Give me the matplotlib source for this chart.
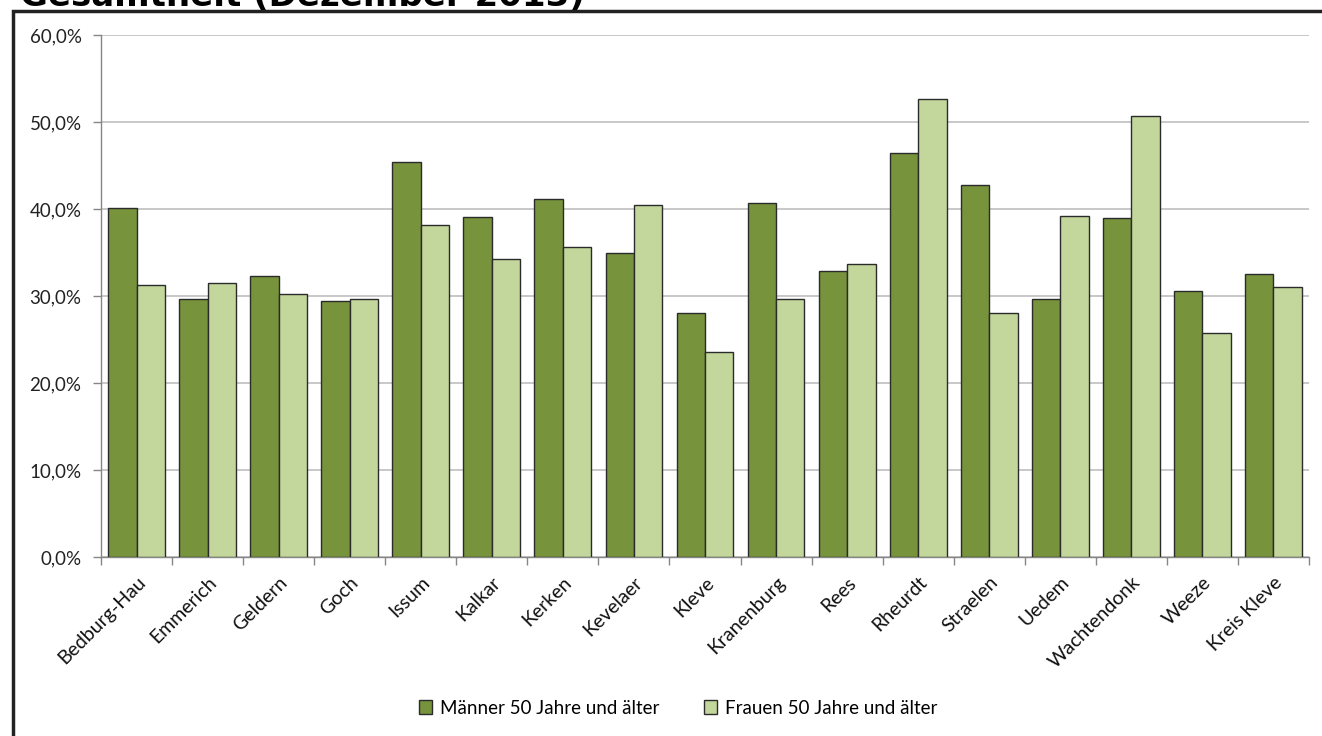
import matplotlib.pyplot as plt
import numpy as np
from matplotlib.patches import Rectangle
from matplotlib.ticker import FuncFormatter, MultipleLocator

# Anteil der Arbeitslosen 50 Jahre und aelter, Dezember 2013
orte = ["Bedburg-Hau", "Emmerich", "Geldern", "Goch", "Issum", "Kalkar",
        "Kerken", "Kevelaer", "Kleve", "Kranenburg", "Rees", "Rheurdt",
        "Straelen", "Uedem", "Wachtendonk", "Weeze", "Kreis Kleve"]
maenner = [40.1, 29.7, 32.3, 29.4, 45.4, 39.1, 41.1, 35.0, 28.1, 40.7,
           32.9, 46.4, 42.8, 29.7, 39.0, 30.6, 32.5]
frauen = [31.3, 31.5, 30.2, 29.7, 38.2, 34.3, 35.6, 40.5, 23.6, 29.7,
          33.7, 52.6, 28.0, 39.2, 50.7, 25.7, 31.0]

plt.rcParams["font.family"] = ["Lato", "DejaVu Sans"]

fig = plt.figure(figsize=(13.22, 7.36), dpi=100)
ax = fig.add_axes([101 / 1322, 179 / 736, 1208 / 1322, 522 / 736])

# Rahmen um das Diagramm
fig.patches.append(Rectangle((13 / 1322, -0.05), 1.1, 1 - 11 / 736 + 0.05,
                             transform=fig.transFigure, fill=False,
                             edgecolor="#222222", linewidth=2.5))
fig.text(20 / 1322, 1 - 6 / 736, "Gesamtheit (Dezember 2013)", fontsize=24.5,
         fontweight="bold", family=["DejaVu Sans"], va="baseline", ha="left")

x = np.arange(len(orte))
w = 0.4
ax.bar(x - w / 2, maenner, w, color="#77933C", edgecolor="#2b2b2b",
       linewidth=1, label="Männer 50 Jahre und älter", zorder=3)
ax.bar(x + w / 2, frauen, w, color="#C3D69B", edgecolor="#2b2b2b",
       linewidth=1, label="Frauen 50 Jahre und älter", zorder=3)

ax.set_xlim(-0.5, len(orte) - 0.5)
ax.set_ylim(0, 60)
ax.yaxis.set_major_locator(MultipleLocator(10))
ax.yaxis.set_major_formatter(FuncFormatter(lambda v, p: f"{v:.1f}%".replace(".", ",")))
ax.grid(axis="y", color="#BFBFBF", linewidth=1.2, zorder=0)

ax.set_xticks(x)
ax.set_xticklabels(orte, rotation=45, ha="right", rotation_mode="anchor")
ax.set_xticks(np.arange(-0.5, len(orte)), minor=True)
ax.tick_params(axis="x", which="major", length=0, pad=12, labelsize=14,
               labelcolor="#111111")
ax.tick_params(axis="x", which="minor", length=6, color="#868686", width=1)
ax.tick_params(axis="y", length=6, color="#868686", width=1, labelsize=13.5,
               labelcolor="#222222", pad=8)

for s in ["top", "right"]:
    ax.spines[s].set_visible(False)
for s in ["left", "bottom"]:
    ax.spines[s].set_color("#868686")
    ax.spines[s].set_linewidth(1)

fig.legend(loc="center", bbox_to_anchor=(678 / 1322, 1 - 708 / 736), ncol=2,
           frameon=False, fontsize=13.5, handlelength=0.7, handleheight=0.7,
           handletextpad=0.4, columnspacing=2.4)

fig.savefig("out.png", dpi=100)
